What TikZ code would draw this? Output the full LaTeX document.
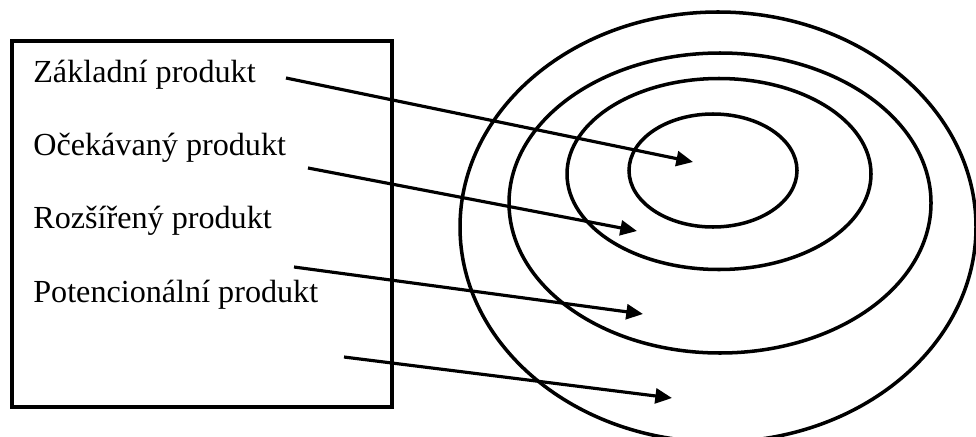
\documentclass[tikz,border=0pt]{standalone}
\usepackage{fontspec}
\setmainfont{Liberation Serif}
\usetikzlibrary{arrows.meta}

\begin{document}
\begin{tikzpicture}[
  x=0.02cm, y=-0.02cm,
  level/.style={anchor=base west, inner sep=0pt, font=\fontsize{18.3}{22}\selectfont},
  ring/.style={line width=2pt},
  pointer/.style={line width=1.8pt, -{Triangle[length=9.5pt, width=8.5pt]}}
]
  \useasboundingbox (0,0) rectangle (976,436);

  % Frame with the four levels of the product
  \draw[line width=2pt] (12,41) rectangle (392,407);
  \node[level] (zakladni)      at (33, 82)  {Základní produkt};
  \node[level] (ocekavany)     at (33, 155) {Očekávaný produkt};
  \node[level] (rozsireny)     at (33, 228) {Rozšířený produkt};
  \node[level] (potencionalni) at (33, 302) {Potencionální produkt};

  % Rings, from the core outwards
  \draw[ring] (713,170.5) ellipse [x radius=84,  y radius=56.5];
  \draw[ring] (719,174)   ellipse [x radius=152, y radius=95.5];
  \draw[ring] (720,203)   ellipse [x radius=211, y radius=150];
  \draw[ring] (718,227)   ellipse [x radius=258, y radius=215];

  % Tails and heads of the pointers
  \coordinate (z0) at (286,78);  \coordinate (z1) at (693,162);
  \coordinate (o0) at (308,168); \coordinate (o1) at (637,231);
  \coordinate (r0) at (294,267); \coordinate (r1) at (643,314);
  \coordinate (p0) at (344,357); \coordinate (p1) at (672,398);

  \draw[pointer] (z0) -- (z1);
  \draw[pointer] (o0) -- (o1);
  \draw[pointer] (r0) -- (r1);
  \draw[pointer] (p0) -- (p1);

\end{tikzpicture}
\end{document}
